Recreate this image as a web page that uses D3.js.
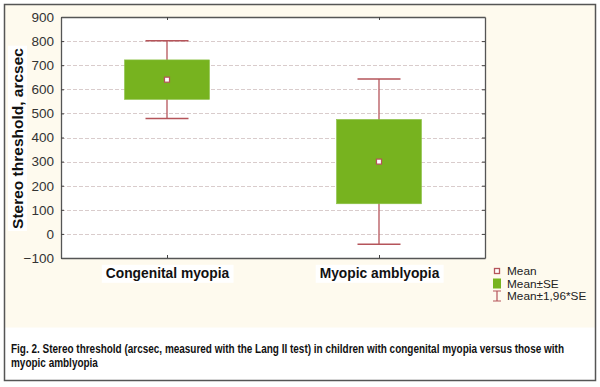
<!DOCTYPE html>
<html>
<head>
<meta charset="utf-8">
<script src="https://cdn.jsdelivr.net/npm/d3@7"></script>
<style>
  body { margin: 0; background: #fff; }
  text { font-family: "Liberation Sans", Arial, sans-serif; }
</style>
</head>
<body>
<script>
var WIDTH = 600,
    HEIGHT = 387;

var groups = ['Congenital myopia', 'Myopic amblyopia'];
var means = [640, 300];
var seLow = [558, 125];
var seHigh = [722, 475];
var ciLow = [479, -43];
var ciHigh = [801, 643];
var yTicks = [-100, 0, 100, 200, 300, 400, 500, 600, 700, 800, 900];
var legendItems = ['Mean', 'Mean\u00b1SE', 'Mean\u00b11,96*SE'];
var captionLines = [
    'Fig. 2. Stereo threshold (arcsec, measured with the Lang II test) in children with congenital myopia versus those with',
    'myopic amblyopia'
];

var GREEN = '#77b31f',
    RED = '#b5545a',
    CREAM = '#fefaee';

var svg = d3.select('body').append('svg')
    .attr('width', WIDTH)
    .attr('height', HEIGHT);

// panels
svg.append('rect').attr('x', 4.5).attr('y', 4.5).attr('width', 591).attr('height', 323)
    .attr('fill', CREAM);
svg.append('rect').attr('x', 4.5).attr('y', 4.5).attr('width', 591).attr('height', 376)
    .attr('fill', 'none').attr('stroke', '#555').attr('stroke-width', 1.5);

var plot = { left: 61, right: 485, top: 17, bottom: 258 };

var x = d3.scalePoint()
    .domain(groups)
    .range([plot.left, plot.right])
    .padding(0.5);

var y = d3.scaleLinear()
    .domain([-100, 900])
    .range([plot.bottom, plot.top]);

svg.append('rect')
    .attr('x', plot.left).attr('y', plot.top)
    .attr('width', plot.right - plot.left).attr('height', plot.bottom - plot.top)
    .attr('fill', '#fff');

// grid
svg.append('g').selectAll('line')
    .data(yTicks.slice(1, -1))
    .enter().append('line')
    .attr('x1', plot.left).attr('x2', plot.right)
    .attr('y1', d => Math.round(y(d)) + 0.5).attr('y2', d => Math.round(y(d)) + 0.5)
    .attr('stroke', '#d9cccc')
    .attr('stroke-dasharray', '4,2');

// axes
var leftAxis = svg.append('g')
    .attr('transform', 'translate(' + plot.left + ',0)')
    .call(d3.axisLeft(y).tickValues(yTicks).tickSizeInner(-3).tickSizeOuter(0).tickPadding(7));
var rightAxis = svg.append('g')
    .attr('transform', 'translate(' + plot.right + ',0)')
    .call(d3.axisRight(y).tickValues(yTicks).tickSizeInner(-3).tickSizeOuter(0).tickFormat(''));
var bottomAxis = svg.append('g')
    .attr('transform', 'translate(0,' + plot.bottom + ')')
    .call(d3.axisBottom(x).tickSizeInner(-3).tickSizeOuter(0).tickPadding(10));
var topAxis = svg.append('g')
    .attr('transform', 'translate(0,' + plot.top + ')')
    .call(d3.axisTop(x).tickSizeInner(-3).tickSizeOuter(0).tickFormat(''));

[leftAxis, rightAxis, bottomAxis, topAxis].forEach(function(a) {
    a.select('.domain').attr('stroke', '#555').attr('stroke-width', 1.3);
    a.selectAll('.tick line').attr('stroke', '#444');
});

leftAxis.selectAll('.tick text')
    .attr('font-size', 13.5)
    .attr('fill', '#333')
    .style('font-family', '"Liberation Sans", Arial, sans-serif');

bottomAxis.selectAll('.tick text')
    .attr('font-size', 13.8)
    .attr('font-weight', 'bold')
    .attr('fill', '#111')
    .style('font-family', '"Liberation Sans", Arial, sans-serif')
    .each(function() {
        var b = this.getBBox();
        var t = this;
        d3.select(this.parentNode).insert('rect', () => t)
            .attr('x', b.x - 4).attr('y', b.y - 1)
            .attr('width', b.width + 8).attr('height', b.height + 3)
            .attr('fill', '#fff');
    });

// y label
var ylab = svg.append('text')
    .attr('transform', 'translate(23,' + ((plot.top + plot.bottom) / 2 + 1) + ') rotate(-90)')
    .attr('text-anchor', 'middle')
    .attr('font-size', 15.5)
    .attr('font-weight', 'bold')
    .attr('fill', '#111')
    .text('Stereo threshold, arcsec');
var lb = ylab.node().getBBox();
svg.insert('rect', () => ylab.node())
    .attr('transform', ylab.attr('transform'))
    .attr('x', lb.x - 2).attr('y', lb.y - 1)
    .attr('width', lb.width + 4).attr('height', lb.height + 2)
    .attr('fill', '#fff');

// boxes and whiskers
var boxW = 85, capW = 43;
var marks = svg.append('g').selectAll('g')
    .data(groups)
    .enter().append('g');

marks.append('line')
    .attr('x1', d => x(d)).attr('x2', d => x(d))
    .attr('y1', (d, i) => y(ciHigh[i])).attr('y2', (d, i) => y(ciLow[i]))
    .attr('stroke', RED).attr('stroke-width', 1.3);
marks.append('line')
    .attr('x1', d => x(d) - capW / 2).attr('x2', d => x(d) + capW / 2)
    .attr('y1', (d, i) => y(ciHigh[i])).attr('y2', (d, i) => y(ciHigh[i]))
    .attr('stroke', RED).attr('stroke-width', 1.5);
marks.append('line')
    .attr('x1', d => x(d) - capW / 2).attr('x2', d => x(d) + capW / 2)
    .attr('y1', (d, i) => y(ciLow[i])).attr('y2', (d, i) => y(ciLow[i]))
    .attr('stroke', RED).attr('stroke-width', 1.5);
marks.append('rect')
    .attr('x', d => x(d) - boxW / 2)
    .attr('y', (d, i) => y(seHigh[i]))
    .attr('width', boxW)
    .attr('height', (d, i) => y(seLow[i]) - y(seHigh[i]))
    .attr('fill', GREEN)
    .attr('stroke', '#8cc247').attr('stroke-width', 0.6);
marks.append('rect')
    .attr('x', d => x(d) - 2.5)
    .attr('y', (d, i) => y(means[i]) - 2.5)
    .attr('width', 5).attr('height', 5)
    .attr('fill', '#fff')
    .attr('stroke', RED).attr('stroke-width', 1.2);

// legend
var legend = svg.append('g').attr('transform', 'translate(493,271)');
legendItems.forEach(function(t, i) {
    var g = legend.append('g').attr('transform', 'translate(0,' + (i * 12.5) + ')');
    if (i === 0) {
        g.append('rect').attr('x', 1.5).attr('y', -2.5).attr('width', 5).attr('height', 5)
            .attr('fill', '#fff').attr('stroke', RED).attr('stroke-width', 1.3);
    } else if (i === 1) {
        g.append('rect').attr('x', 0).attr('y', -5).attr('width', 8).attr('height', 10)
            .attr('fill', GREEN);
    } else {
        g.append('path').attr('d', 'M0,-5H8M4,-5V5M0,5H8')
            .attr('fill', 'none').attr('stroke', RED).attr('stroke-width', 1.2);
    }
    g.append('text')
        .attr('x', 14).attr('y', 4)
        .attr('font-size', 11.8)
        .attr('fill', '#222')
        .text(t);
});

// caption, squeezed horizontally like a narrow face
var cap = svg.append('g');
cap.selectAll('text')
    .data(captionLines)
    .enter().append('text')
    .attr('x', 0)
    .attr('y', (d, i) => i * 14)
    .attr('font-size', 12)
    .attr('font-weight', 'bold')
    .attr('fill', '#111')
    .text(d => d);
var capW0 = cap.select('text').node().getComputedTextLength();
var sx = 554 / capW0;
cap.attr('transform', 'translate(11,353) scale(' + sx + ',1)');
</script>
</body>
</html>
